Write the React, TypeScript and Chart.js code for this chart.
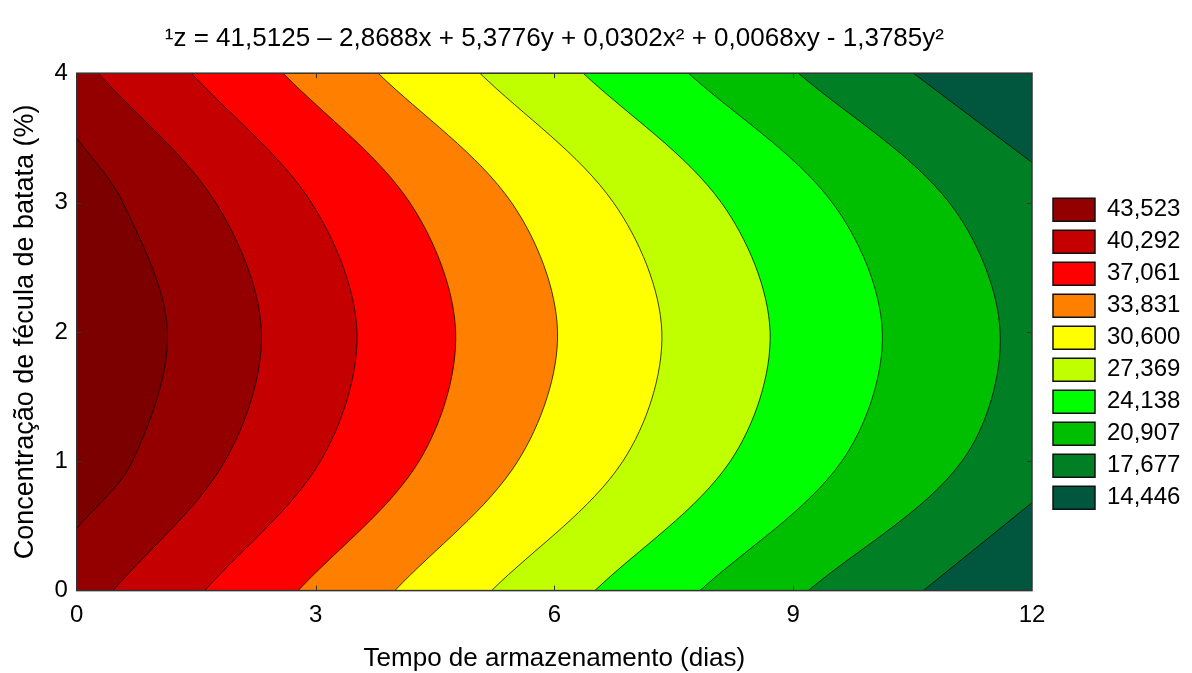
import React, { useEffect, useRef } from "react";
import { Chart, registerables } from "chart.js";

Chart.register(...registerables);

const FONT = "'Liberation Sans', Arial, sans-serif";

// Title (response-surface equation)
const chartTitle = "¹z = 41,5125 – 2,8688x + 5,3776y + 0,0302x² + 0,0068xy - 1,3785y²";
const xTitle = "Tempo de armazenamento (dias)";
const yTitle = "Concentração de fécula de batata (%)";

// Axes
const xDomain = [0, 12];
const yDomain = [0, 4];
const xTicks = [0, 3, 6, 9, 12];
const yTicks = [0, 1, 2, 3, 4];

// Legend (contour levels) and colours, top to bottom
const levelLabels = ["43,523", "40,292", "37,061", "33,831", "30,600", "27,369", "24,138", "20,907", "17,677", "14,446"];
const levelColors = ["#940000", "#c40000", "#ff0000", "#ff8000", "#ffff00", "#bfff00", "#00ff00", "#00bf00", "#007f25", "#00573e"];
const peakColor = "#7c0000"; // region above 43,523

// Rows of y (%) at which the contour lines were read
const rowY = [0, 1, 2, 3, 4];

// x (days) where each contour line crosses the rows above (null = not inside the plot)
const bound43523 = [null, 0.7, 1.14, 0.58, null];
const edge43523Y = [0.48, 3.5]; // where it meets x = 0
const bound40292 = [0.456, 1.86, 2.32, 1.744, 0.268];
const bound37061 = [1.608, 3.06, 3.52, 2.946, 1.441];
const bound33831 = [2.781, 4.3, 4.76, 4.184, 2.592];
const bound30600 = [3.996, 5.54, 6.04, 5.462, 3.786];
const bound27369 = [5.211, 6.86, 7.35, 6.742, 5.064];
const bound24138 = [6.509, 8.21, 8.71, 8.097, 6.362];
const bound20907 = [7.829, 9.61, 10.12, 9.49, 7.682];
const bound17677 = [9.19, 11.12, 11.6, 10.96, 9.064];
const bound14446 = [10.635, null, null, null, 10.509];
const edge14446Y = [0.68, 3.31]; // where it meets x = 12

const fullBounds = [bound40292, bound37061, bound33831, bound30600, bound27369, bound24138, bound20907, bound17677];

const LINE = "rgba(0,0,0,0.75)";

function buildDatasets() {
  const ds: any[] = [];
  const curve = {
    showLine: true,
    indexAxis: "y",
    fill: { value: xDomain[0] },
    pointRadius: 0,
    pointHoverRadius: 0,
    borderColor: LINE,
    borderWidth: 1,
    tension: 0.33,
  };
  // peak region (z > 43,523), closed against the left edge
  const peakPts: any[] = [{ x: xDomain[0], y: edge43523Y[0] }];
  rowY.forEach((y, i) => {
    if (bound43523[i] !== null) peakPts.push({ x: bound43523[i], y });
  });
  peakPts.push({ x: xDomain[0], y: edge43523Y[1] });
  ds.push({ ...curve, data: peakPts, backgroundColor: peakColor });

  // bands whose boundary runs from bottom to top
  fullBounds.forEach((b, k) => {
    const pts: any[] = rowY.map((y, i) => ({ x: b[i], y }));
    ds.push({ ...curve, data: pts, backgroundColor: levelColors[k] });
  });

  // lowest band: two corners at the right side
  const poly = {
    showLine: true,
    fill: "shape",
    pointRadius: 0,
    pointHoverRadius: 0,
    borderColor: LINE,
    borderWidth: 1,
    tension: 0,
  };
  const cornerLow = [
    { x: xDomain[1], y: edge14446Y[0] },
    { x: bound14446[0], y: rowY[0] },
    { x: xDomain[1], y: yDomain[0] },
  ];
  const cornerHigh = [
    { x: xDomain[1], y: edge14446Y[1] },
    { x: bound14446[4], y: rowY[4] },
    { x: xDomain[1], y: yDomain[1] },
  ];
  ds.push({ ...poly, data: cornerLow, backgroundColor: levelColors[9] });
  ds.push({ ...poly, data: cornerHigh, backgroundColor: levelColors[9] });

  // band 17,677 fills the whole plot underneath
  const bgPts = [
    { x: xDomain[0], y: yDomain[0] },
    { x: xDomain[1], y: yDomain[0] },
    { x: xDomain[1], y: yDomain[1] },
    { x: xDomain[0], y: yDomain[1] },
  ];
  ds.push({ ...poly, borderWidth: 0, data: bgPts, backgroundColor: levelColors[8] });
  return ds;
}

const framePlugin = {
  id: "frame",
  afterDatasetsDraw(chart: any) {
    const { ctx, chartArea: a, scales } = chart;
    ctx.save();
    ctx.strokeStyle = "#333";
    ctx.lineWidth = 1.5;
    ctx.strokeRect(a.left, a.top, a.right - a.left, a.bottom - a.top);
    ctx.lineWidth = 1;
    ctx.beginPath();
    xTicks.slice(1, -1).forEach((v) => {
      const px = Math.round(scales.x.getPixelForValue(v)) + 0.5;
      ctx.moveTo(px, a.bottom);
      ctx.lineTo(px, a.bottom - 5);
      ctx.moveTo(px, a.top);
      ctx.lineTo(px, a.top + 5);
    });
    yTicks.slice(1, -1).forEach((v) => {
      const py = Math.round(scales.y.getPixelForValue(v)) + 0.5;
      ctx.moveTo(a.left, py);
      ctx.lineTo(a.left + 5, py);
      ctx.moveTo(a.right, py);
      ctx.lineTo(a.right - 5, py);
    });
    ctx.stroke();
    ctx.restore();
  },
};

export default function App() {
  const ref = useRef<HTMLCanvasElement>(null);
  useEffect(() => {
    const chart = new Chart(ref.current as HTMLCanvasElement, {
      type: "scatter",
      data: { datasets: buildDatasets() },
      options: {
        responsive: false,
        animation: false,
        devicePixelRatio: 1,
        layout: { padding: { left: 0, right: 1.6, top: 0, bottom: 0 } },
        plugins: {
          title: {
            display: true,
            text: chartTitle,
            fullSize: false,
            color: "#000",
            font: { family: FONT, size: 26, weight: "normal" },
            padding: { top: 23, bottom: 19 },
          },
          legend: {
            position: "right",
            align: "center",
            onClick: () => {},
            title: { display: true, text: " ", padding: { top: 10, bottom: 10 }, font: { size: 12 } },
            labels: {
              boxWidth: 42,
              boxHeight: 23,
              padding: 8,
              color: "#000",
              font: { family: FONT, size: 24 },
              generateLabels: () =>
                levelLabels.map((t, i) => ({
                  text: t,
                  fillStyle: levelColors[i],
                  strokeStyle: "#111",
                  lineWidth: 1.5,
                  hidden: false,
                  fontColor: "#000",
                })),
            },
          },
          tooltip: { enabled: false },
        },
        scales: {
          x: {
            type: "linear",
            min: xDomain[0],
            max: xDomain[1],
            ticks: { stepSize: 3, color: "#000", padding: 10, font: { family: FONT, size: 24 } },
            grid: { display: false, drawTicks: false },
            border: { display: false },
            title: {
              display: true,
              text: xTitle,
              color: "#000",
              font: { family: FONT, size: 26, lineHeight: 1.1 },
              padding: { top: 5, bottom: 0 },
            },
          },
          y: {
            type: "linear",
            min: yDomain[0],
            max: yDomain[1],
            ticks: { stepSize: 1, color: "#000", padding: 9, font: { family: FONT, size: 24 } },
            grid: { display: false, drawTicks: false },
            border: { display: false },
            title: {
              display: true,
              text: yTitle,
              color: "#000",
              font: { family: FONT, size: 27, lineHeight: 1.2 },
              padding: { top: 9, bottom: 4 },
            },
          },
          y2: {
            position: "right",
            display: true,
            ticks: { display: false },
            grid: { display: false, drawTicks: false },
            border: { display: false },
            afterFit: (s: any) => {
              s.width = 13;
            },
          },
        },
      } as any,
      plugins: [framePlugin],
    });
    return () => chart.destroy();
  }, []);
  return (
    <div style={{ position: "fixed", left: 0, top: 0, width: 1192, height: 673, background: "#fff" }}>
      <canvas ref={ref} width={1192} height={673} style={{ display: "block", width: 1192, height: 673 }} />
    </div>
  );
}
